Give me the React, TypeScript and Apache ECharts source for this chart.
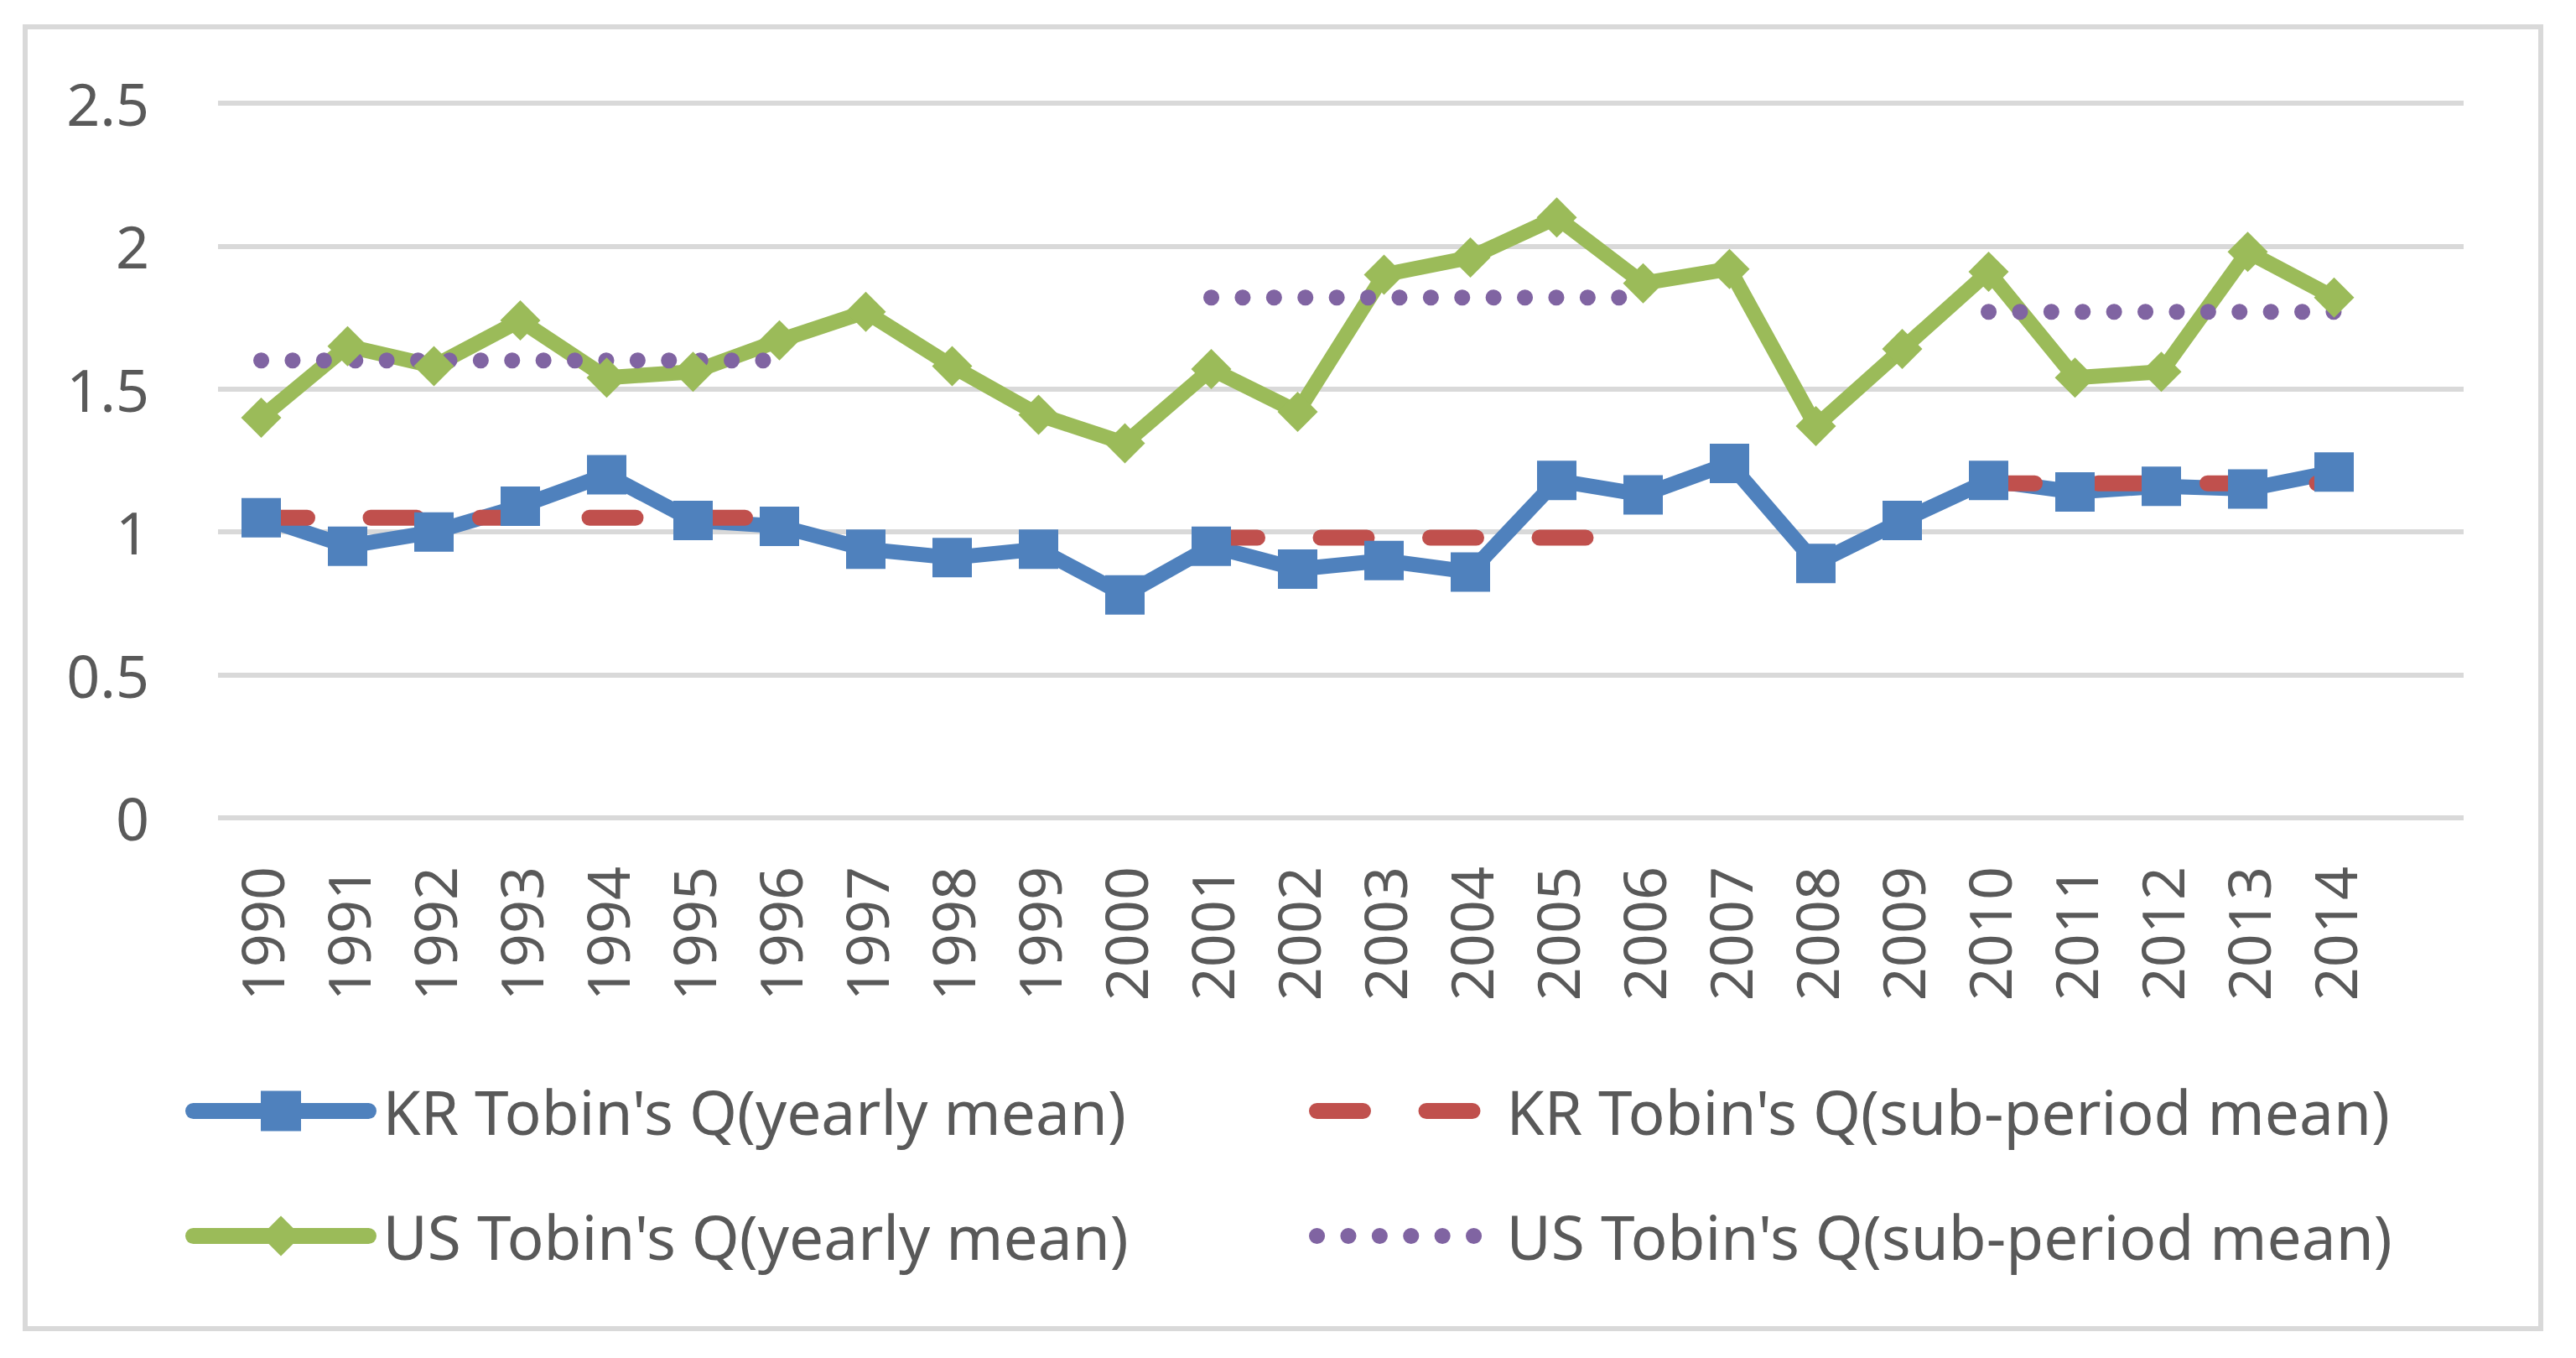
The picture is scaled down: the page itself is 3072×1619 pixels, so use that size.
import React, { useEffect, useRef } from 'react';
import * as echarts from 'echarts';

// Categories (the source chart has one trailing blank category)
const years = [
  '1990', '1991', '1992', '1993', '1994', '1995', '1996', '1997', '1998', '1999',
  '2000', '2001', '2002', '2003', '2004', '2005', '2006', '2007', '2008', '2009',
  '2010', '2011', '2012', '2013', '2014', '',
];

const krYearly = [
  1.05, 0.95, 1.0, 1.09, 1.2, 1.04, 1.02, 0.94, 0.91, 0.94,
  0.78, 0.95, 0.87, 0.9, 0.86, 1.18, 1.13, 1.24, 0.89, 1.04,
  1.18, 1.14, 1.16, 1.15, 1.21,
];

const usYearly = [
  1.4, 1.65, 1.58, 1.74, 1.54, 1.56, 1.67, 1.77, 1.58, 1.41,
  1.31, 1.57, 1.42, 1.9, 1.96, 2.1, 1.87, 1.92, 1.37, 1.64,
  1.91, 1.54, 1.56, 1.98, 1.82,
];

const krSub = [
  1.05, 1.05, 1.05, 1.05, 1.05, 1.05, 1.05, null, null, null,
  null, 0.98, 0.98, 0.98, 0.98, 0.98, 0.98, null, null, null,
  1.17, 1.17, 1.17, 1.17, 1.17,
];

const usSub = [
  1.6, 1.6, 1.6, 1.6, 1.6, 1.6, 1.6, null, null, null,
  null, 1.82, 1.82, 1.82, 1.82, 1.82, 1.82, null, null, null,
  1.77, 1.77, 1.77, 1.77, 1.77,
];

const names = [
  "KR Tobin's Q(yearly mean)",
  "KR Tobin's Q(sub-period mean)",
  "US Tobin's Q(yearly mean)",
  "US Tobin's Q(sub-period mean)",
];

const yMin = 0;
const yMax = 2.5;
const yStep = 0.5;

const FONT = "'Noto Sans', 'Open Sans', sans-serif";
const TEXT = '#595959';
const GRID = '#d9d9d9';

export default function App() {
  const ref = useRef<HTMLDivElement>(null);

  useEffect(() => {
    if (!ref.current) return;
    const chart = echarts.init(ref.current, undefined, { renderer: 'svg' });

    const legendBase = {
      orient: 'horizontal',
      padding: 0,
      itemWidth: 209,
      itemHeight: 60,
      selectedMode: false,
      textStyle: {
        fontSize: 73,
        color: TEXT,
        fontFamily: FONT,
        padding: [0, 0, 0, 12],
        lineHeight: 60,
      },
      lineStyle: { width: 19 },
    };

    chart.setOption({
      animation: false,
      backgroundColor: '#ffffff',
      graphic: [
        {
          type: 'rect',
          shape: { x: 30, y: 32, width: 3000, height: 1552 },
          style: { fill: 'none', stroke: GRID, lineWidth: 6 },
          silent: true,
        },
      ],
      grid: { left: 260, right: 134, top: 123, bottom: 644, containLabel: false },
      xAxis: {
        type: 'category',
        data: years,
        boundaryGap: true,
        axisLine: { show: false },
        axisTick: { show: false },
        axisLabel: {
          rotate: 90,
          interval: 0,
          margin: 58,
          fontSize: 70,
          color: TEXT,
          fontFamily: FONT,
        },
        splitLine: { show: false },
      },
      yAxis: {
        type: 'value',
        min: yMin,
        max: yMax,
        interval: yStep,
        axisLine: { show: false },
        axisTick: { show: false },
        axisLabel: {
          margin: 82,
          fontSize: 70,
          color: TEXT,
          fontFamily: FONT,
        },
        splitLine: { lineStyle: { color: GRID, width: 6 } },
      },
      legend: [
        { ...legendBase, left: 221, top: 1288, data: [{ name: names[0] }] },
        { ...legendBase, left: 1561, top: 1288, data: [{ name: names[1], itemStyle: { opacity: 0 } }] },
        { ...legendBase, left: 221, top: 1437, data: [{ name: names[2] }] },
        { ...legendBase, left: 1561, top: 1437, data: [{ name: names[3], itemStyle: { opacity: 0 } }] },
      ],
      series: [
        {
          name: names[0],
          type: 'line',
          data: krYearly,
          symbol: 'rect',
          symbolSize: 47,
          lineStyle: { width: 18, color: '#4F81BD', cap: 'round', join: 'round' },
          itemStyle: { color: '#4F81BD' },
          silent: true,
        },
        {
          name: names[2],
          type: 'line',
          data: usYearly,
          symbol: 'diamond',
          symbolSize: 48,
          lineStyle: { width: 18, color: '#9BBB59', cap: 'round', join: 'round' },
          itemStyle: { color: '#9BBB59' },
          silent: true,
        },
        {
          name: names[1],
          type: 'line',
          data: krSub,
          symbol: 'none',
          connectNulls: false,
          lineStyle: { width: 19, color: '#C0504D', type: [55, 75.5], cap: 'round' },
          itemStyle: { color: '#C0504D' },
          silent: true,
        },
        {
          name: names[3],
          type: 'line',
          data: usSub,
          symbol: 'none',
          connectNulls: false,
          lineStyle: { width: 19, color: '#8064A2', type: [0.1, 37.3], cap: 'round' },
          itemStyle: { color: '#8064A2' },
          silent: true,
        },
      ],
    });

    return () => chart.dispose();
  }, []);

  return (
    <div
      ref={ref}
      style={{ position: 'fixed', left: 0, top: 0, width: 3072, height: 1619, background: '#fff' }}
    />
  );
}
